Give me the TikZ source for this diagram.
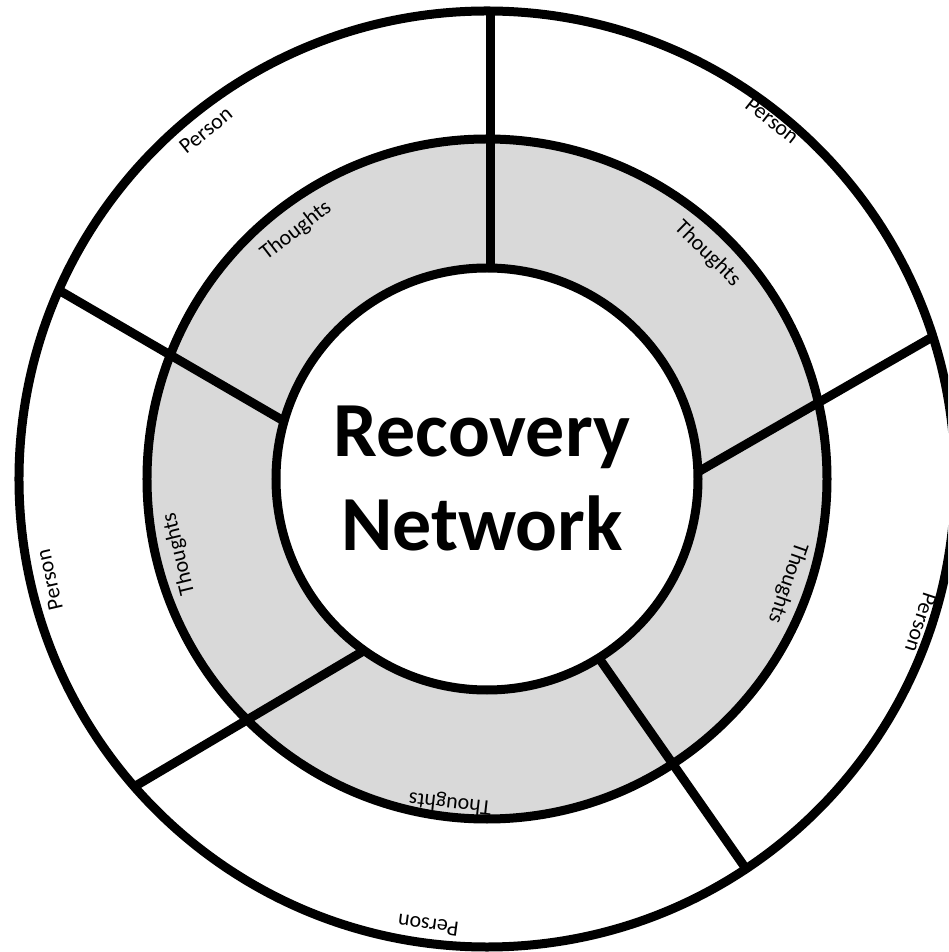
\documentclass[tikz,border=0pt]{standalone}
\usepackage{fontspec}
\setmainfont{Carlito}
\definecolor{ringgray}{RGB}{217,217,217}
\tikzset{
  ringline/.style={line width=4.5pt, draw=black, line cap=butt},
  lbl/.style={font=\fontsize{11}{13}\selectfont, inner sep=0pt},
  titlebox/.style={font=\fontsize{39}{47}\selectfont\bfseries, align=center, inner sep=0pt},
}
\begin{document}
\begin{tikzpicture}[x=0.5pt,y=0.5pt]
\useasboundingbox (-487,-473) rectangle (461,479);
\clip (-487,-473) rectangle (461,479);
\coordinate (c) at (0,0);
% ring fill
\fill[ringgray] (c) circle[radius=340];
\fill[white] (c) circle[radius=211];
% circles
\draw[ringline] (c) circle[radius=468];
\draw[ringline] (c) circle[radius=340];
\draw[ringline] (c) circle[radius=211];
% divider end points
\coordinate (topo) at (3,468);
\coordinate (topi) at (3,211);
\coordinate (ulo) at (156.2:468);
\coordinate (uli) at (164.1:211);
\coordinate (uro) at (17.7:468);
\coordinate (uri) at (1.9:211);
\coordinate (lri) at (-58.0:211);
\coordinate (lro) at (-56.4:468);
\coordinate (lli) at (234.4:211);
\coordinate (llo) at (221.1:468);
% dividers
\draw[ringline] (topo) -- (topi);
\draw[ringline] (ulo) -- (uli);
\draw[ringline] (uro) -- (uri);
\draw[ringline] (lro) -- (lri);
\draw[ringline] (llo) -- (lli);
% title
\node[titlebox] (title) at (-5,1) {Recovery\\Network};
% thoughts labels
\node[lbl, rotate=37.6] (th1) at (127.6:313) {Thoughts};
\node[lbl, rotate=-44.4] (th2) at (45.6:315) {Thoughts};
\node[lbl, rotate=103.7] (th3) at (193.7:317) {Thoughts};
\node[lbl, rotate=-109.1] (th4) at (-19.1:318) {Thoughts};
\node[lbl, rotate=173.5] (th5) at (263.5:326) {Thoughts};
% person labels
\node[lbl, rotate=38.9] (p1) at (128.9:448) {Person};
\node[lbl, rotate=-38.5] (p2) at (51.5:458) {Person};
\node[lbl, rotate=103.0] (p3) at (193.0:449) {Person};
\node[lbl, rotate=-108.3] (p4) at (-18.3:457) {Person};
\node[lbl, rotate=172.5] (p5) at (262.5:450) {Person};
\end{tikzpicture}
\end{document}
